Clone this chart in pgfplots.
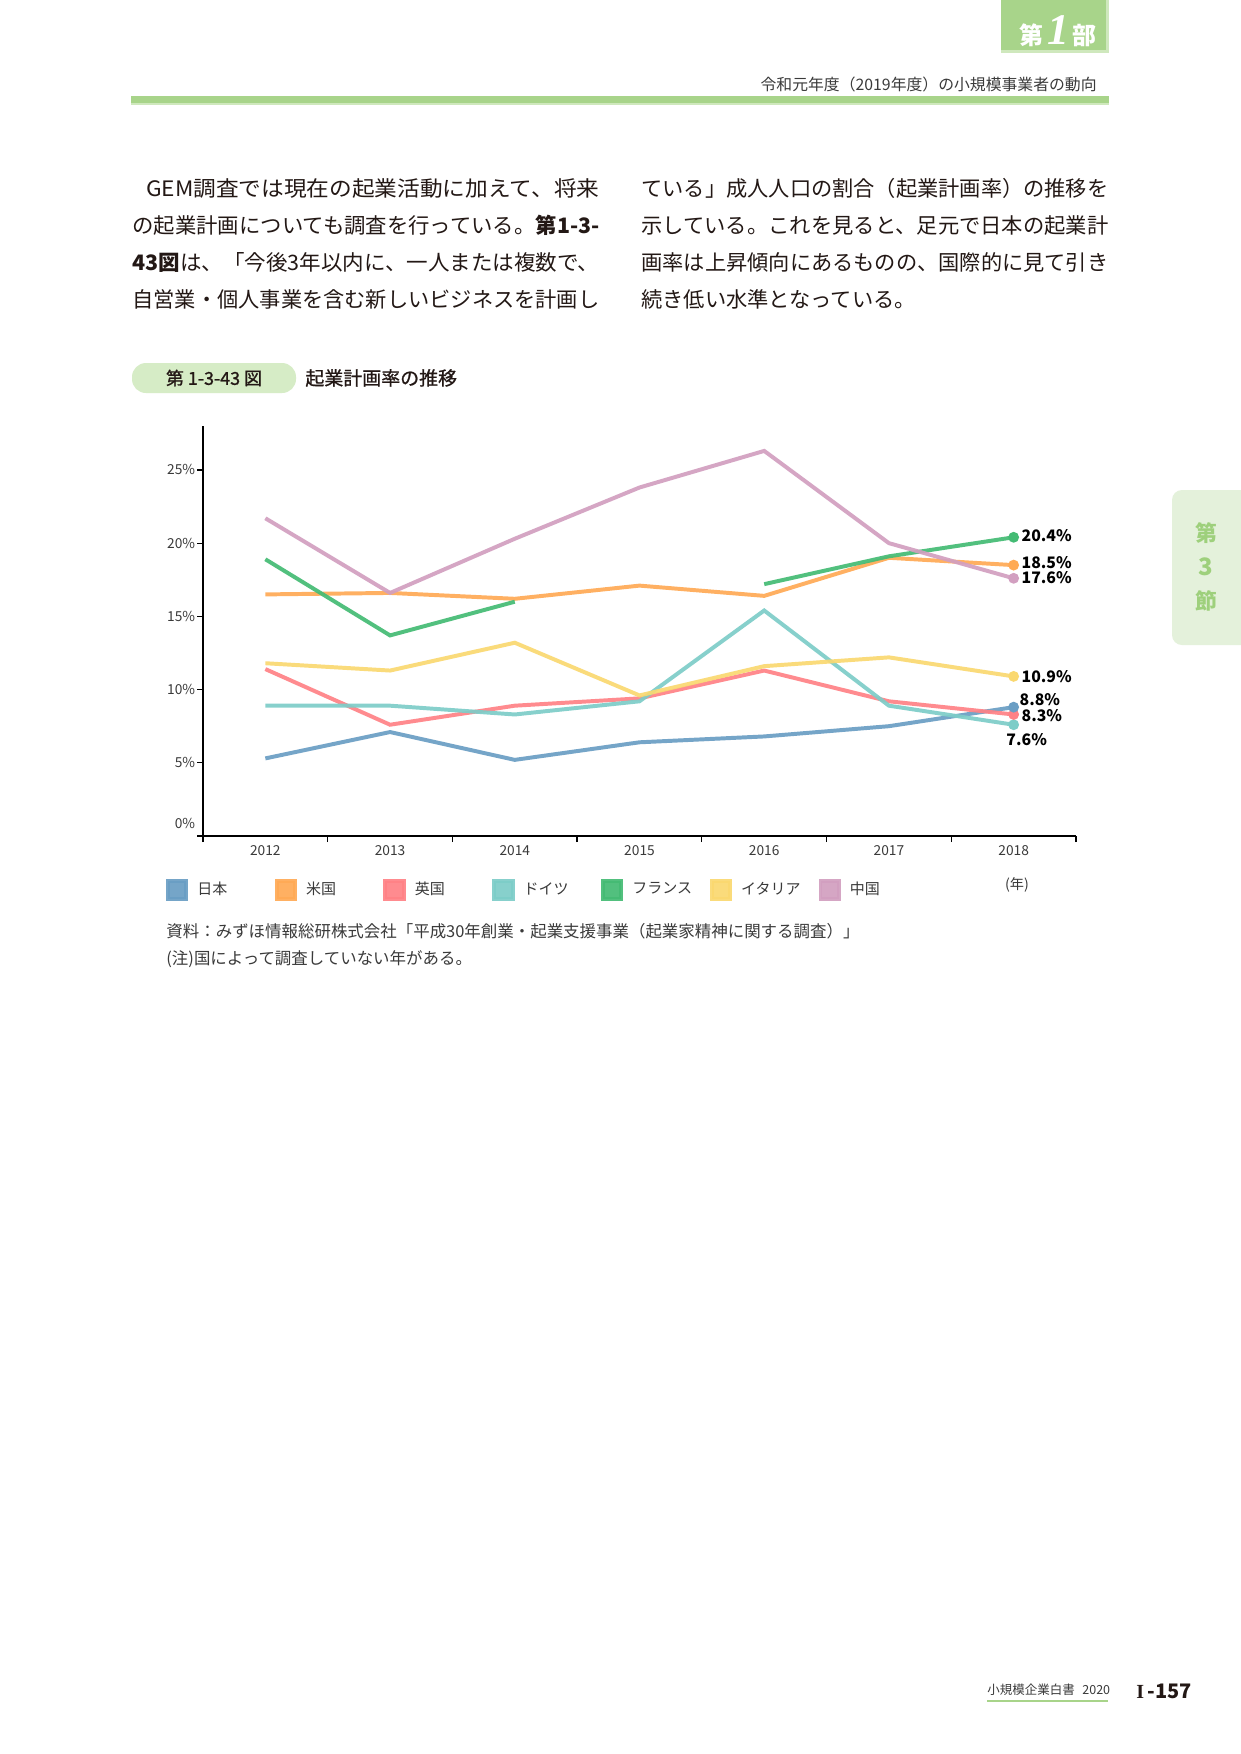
\documentclass[border=0pt]{standalone}
\usepackage{fontspec}
\usepackage{graphicx}
\setmainfont{Noto Sans CJK JP}
\newfontfamily\serifLatin{Liberation Serif}
\newfontfamily\medium[FakeBold=1.0]{Noto Sans CJK JP}
\usepackage{pgfplots}
\pgfplotsset{compat=1.18}
\newlength\px \setlength\px{0.48pt}
\definecolor{cJP}{HTML}{6A9EC4}
\definecolor{cUS}{HTML}{FFAA55}
\definecolor{cUK}{HTML}{FF8286}
\definecolor{cDE}{HTML}{7DCDC8}
\definecolor{cFR}{HTML}{44BB74}
\definecolor{cIT}{HTML}{FAD870}
\definecolor{cCN}{HTML}{D29FC0}
\definecolor{hdgreen}{HTML}{A8D48A}
\definecolor{hdlight}{HTML}{CFE8BD}
\definecolor{pillgreen}{HTML}{D6ECC6}
\definecolor{tabgreen}{HTML}{E4F1DB}
\definecolor{tabtext}{HTML}{9ED07C}
\definecolor{txt}{HTML}{231815}
\definecolor{lbl}{HTML}{3A3A3A}
\newsavebox\jbox
\newcommand\jl[1]{\sbox\jbox{#1}\pgfmathsetmacro\sx{224.16/\the\wd\jbox}\scalebox{\sx}[1]{\usebox\jbox}}
\begin{document}
\begin{tikzpicture}[x=\px,y=-\px]
\useasboundingbox (0,0) rectangle (1241,1754);
\fill[white] (0,0) rectangle (1241,1754);
% header
\fill[hdlight] (1001,0) rectangle (1109,53);
\fill[hdgreen] (1001,0) rectangle (1106,50);
\node[white,inner sep=0pt] at (1058,31) {\fontsize{11.5}{12}\selectfont\bfseries 第\,{\fontsize{21}{21}\selectfont\serifLatin\bfseries\itshape 1}\,部};
\node[anchor=east,inner sep=0pt,text=lbl] at (1097,84) {\fontsize{7.6}{8}\selectfont 令和元年度（2019年度）の小規模事業者の動向};
\fill[hdgreen] (131,96) rectangle (1109,103);
\fill[hdlight] (131,103) rectangle (1109,105);
% body text
\begin{scope}[every node/.style={anchor=west,inner sep=0pt,text=txt,font=\fontsize{10.2}{12}\selectfont}]
\node at (132,188) {\jl{\hspace{0.6em}GEM調査では現在の起業活動に加えて、将来}};
\node at (132,225) {\jl{の起業計画についても調査を行っている。\textbf{第1-3-}}};
\node at (132,262) {\jl{\textbf{43図}は、「今後3年以内に、一人または複数で、}};
\node at (132,299) {\jl{自営業・個人事業を含む新しいビジネスを計画し}};
\node at (641,188) {\jl{ている」成人人口の割合（起業計画率）の推移を}};
\node at (641,225) {\jl{示している。これを見ると、足元で日本の起業計}};
\node at (641,262) {\jl{画率は上昇傾向にあるものの、国際的に見て引き}};
\node at (641,299) {続き低い水準となっている。};
\end{scope}
% figure title
\fill[pillgreen, rounded corners=14\px] (132,363) rectangle (296,393);
\node[inner sep=0pt,text=txt] at (214,378) {\fontsize{8.6}{9}\selectfont\medium 第 1-3-43 図};
\node[anchor=west,inner sep=0pt,text=txt] at (305,378) {\fontsize{9.1}{10}\selectfont\medium 起業計画率の推移};
% side tab
\fill[tabgreen, rounded corners=10\px] (1172,490) rectangle (1262,645);
\node[text=tabtext,inner sep=0pt] at (1206,533) {\fontsize{10.5}{11}\selectfont\bfseries 第};
\node[text=tabtext,inner sep=0pt] at (1206,567) {\fontsize{11.5}{12}\selectfont\bfseries 3};
\node[text=tabtext,inner sep=0pt] at (1206,601) {\fontsize{10.5}{11}\selectfont\bfseries 節};
% chart
\begin{axis}[
  at={(203\px,-836\px)}, anchor=south west,
  scale only axis, width=873\px, height=410\px,
  xmin=2011.5, xmax=2018.5, ymin=0, ymax=28,
  axis x line=bottom, axis y line=left,
  axis line style={-, line width=0.6pt, black},
  xtick={2011.5,2012.5,...,2018.5}, xticklabels={},
  extra x ticks={2012,2013,2014,2015,2016,2017,2018},
  extra x tick labels={2012,2013,2014,2015,2016,2017,2018},
  extra x tick style={major tick length=0pt},
  xticklabel style={inner sep=0pt, yshift=-4.6pt, text=lbl, font=\fontsize{6.6}{7}\selectfont},
  ytick={0,5,10,15,20,25},
  yticklabels={\raisebox{26\px}{0\%},5\%,10\%,15\%,20\%,25\%},
  yticklabel style={inner sep=0pt, xshift=-1.5\px, text=lbl, font=\fontsize{6.6}{7}\selectfont},
  tick align=outside, major tick length=6\px,
  tick style={line width=0.6pt, black},
  unbounded coords=jump,
  clip=false,
  every axis plot/.append style={line width=1.9pt, opacity=0.92, mark=none},
  legend image code/.code={\fill[#1] (0pt,-9\px) rectangle (18.4\px,9\px);},
  legend style={draw=none, fill=none, inner sep=0pt, outer sep=0pt,
    at={(-0.0424,-0.131)}, anchor=west, legend columns=7,
    column sep=0pt,
    /tikz/every odd column/.append style={column sep=9\px},
    font=\fontsize{7.2}{8}\selectfont, text=lbl,
    nodes={inner sep=0pt}},
]
\addplot[color=cJP] coordinates {(2012,5.3) (2013,7.1) (2014,5.2) (2015,6.4) (2016,6.8) (2017,7.5) (2018,8.8)};
\addlegendentry{\makebox[77.4\px][l]{日本}}
\addplot[color=cUS] coordinates {(2012,16.5) (2013,16.6) (2014,16.2) (2015,17.1) (2016,16.4) (2017,19.0) (2018,18.5)};
\addlegendentry{\makebox[77.4\px][l]{米国}}
\addplot[color=cUK] coordinates {(2012,11.4) (2013,7.6) (2014,8.9) (2015,9.4) (2016,11.3) (2017,9.2) (2018,8.3)};
\addlegendentry{\makebox[77.4\px][l]{英国}}
\addplot[color=cDE] coordinates {(2012,8.9) (2013,8.9) (2014,8.3) (2015,9.2) (2016,15.4) (2017,8.9) (2018,7.6)};
\addlegendentry{\makebox[77.4\px][l]{ドイツ}}
\addplot[color=cFR] coordinates {(2012,18.9) (2013,13.7) (2014,16.0) (2015,nan) (2016,17.2) (2017,19.1) (2018,20.4)};
\addlegendentry{\makebox[77.4\px][l]{フランス}}
\addplot[color=cIT] coordinates {(2012,11.8) (2013,11.3) (2014,13.2) (2015,9.6) (2016,11.6) (2017,12.2) (2018,10.9)};
\addlegendentry{\makebox[77.4\px][l]{イタリア}}
\addplot[color=cCN] coordinates {(2012,21.7) (2013,16.6) (2014,20.3) (2015,23.8) (2016,26.3) (2017,20.0) (2018,17.6)};
\addlegendentry{\makebox[77.4\px][l]{中国}}
% end points with labels
\pgfplotsset{lab/.style={forget plot, only marks, mark=*, mark size=3.3\px, opacity=1,
   nodes near coords, point meta=explicit symbolic,
   every node near coord/.append style={inner sep=0pt, text=black, font=\fontsize{7.6}{8}\selectfont\bfseries, #1}}}
\addplot[color=cCN, lab={anchor=west, xshift=6\px, yshift=1\px}] coordinates {(2018,17.6) [17.6\%]};
\addplot[color=cUS, lab={anchor=west, xshift=6\px, yshift=2.5\px}] coordinates {(2018,18.5) [18.5\%]};
\addplot[color=cFR, lab={anchor=west, xshift=6\px, yshift=2\px}] coordinates {(2018,20.4) [20.4\%]};
\addplot[color=cIT, lab={anchor=west, xshift=6\px, yshift=0\px}] coordinates {(2018,10.9) [10.9\%]};
\addplot[color=cDE, lab={anchor=center, xshift=13\px, yshift=-14.6\px}] coordinates {(2018,7.6) [7.6\%]};
\addplot[color=cUK, lab={anchor=west, xshift=6\px, yshift=-1.5\px}] coordinates {(2018,8.3) [8.3\%]};
\addplot[color=cJP, lab={anchor=west, xshift=4\px, yshift=8\px}] coordinates {(2018,8.8) [8.8\%]};
\end{axis}
\draw[line width=0.6pt] (197,836) -- (203,836);
\node[inner sep=0pt,text=lbl] at (1017,885) {\fontsize{6.8}{7}\selectfont (年)};
% source
\node[anchor=west,inner sep=0pt,text=lbl] at (166,931.7) {\fontsize{7.9}{8}\selectfont 資料：みずほ情報総研株式会社「平成30年創業・起業支援事業（起業家精神に関する調査）」};
\node[anchor=west,inner sep=0pt,text=lbl] at (166,959) {\fontsize{7.9}{8}\selectfont (注)国によって調査していない年がある。};
% footer
\node[anchor=west,inner sep=0pt,text=lbl] at (987,1690) {\fontsize{6}{7}\selectfont 小規模企業白書\hspace{0.6em}2020};
\draw[hdgreen, line width=1.2\px] (987,1701) -- (1108,1701);
\node[anchor=west,inner sep=0pt,text=txt] at (1136,1691) {\fontsize{9.6}{10}\selectfont\bfseries{\serifLatin\bfseries I}\,-157};
\end{tikzpicture}
\end{document}
